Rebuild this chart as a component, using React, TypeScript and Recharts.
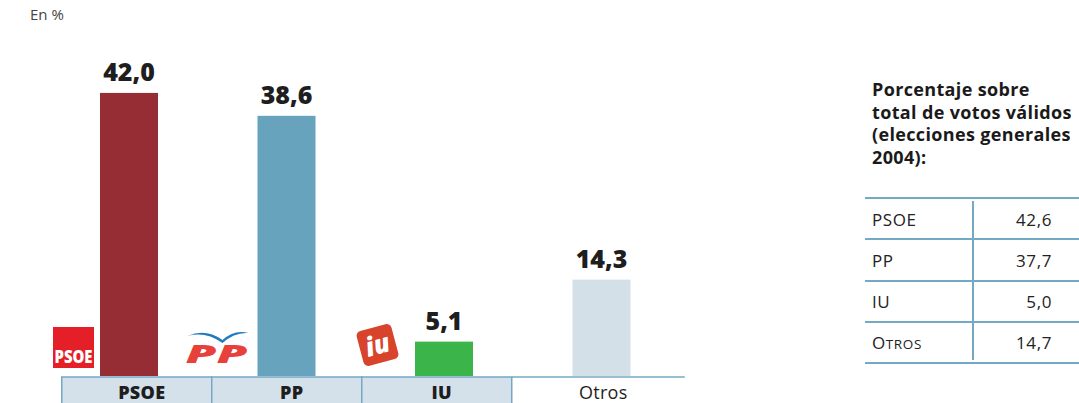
import React from 'react';
import { BarChart, Bar, XAxis, YAxis, LabelList } from 'recharts';

const categories = ['PSOE', 'PP', 'IU', 'Otros'];
const votes2008 = [42.0, 38.6, 5.1, 14.3];
const barColors = ['#962d35', '#67a3bd', '#3bb54a', '#d3e0e8'];
const tableParties = ['PSOE', 'PP', 'IU', 'Otros'];
const votes2004 = [42.6, 37.7, 5.0, 14.7];
const unitLabel = 'En %';
const sideTitle = ['Porcentaje sobre', 'total de votos válidos', '(elecciones generales', '2004):'];

const data = categories.map((name, i) => ({ name, value: votes2008[i], color: barColors[i] }));

const fmt = (v: number) => v.toFixed(1).replace('.', ',');
const FONT = '"Open Sans", sans-serif';
const LINE = '#74a8c4';

const PsoeLogo = ({ cx, cy }: { cx: number; cy: number }) => (
  <g transform={`translate(${cx},${cy})`}>
    <rect x={-20.5} y={-20.5} width={41} height={41} fill="#e41f27" />
    <text x={0} y={15.5} textAnchor="middle" fill="#fff" fontFamily={FONT} fontWeight={800} fontSize={18}
      textLength={38} lengthAdjust="spacingAndGlyphs">PSOE</text>
  </g>
);

const PpLogo = ({ cx, cy }: { cx: number; cy: number }) => (
  <g transform={`translate(${cx},${cy})`}>
    <path d="M-29,-14 Q-11,-22 6,-10 Q18,-21 32,-17 Q18,-18 6,-7 Q-11,-19 -29,-14 Z" fill="#2179c0" />
    <text x={0} y={13} textAnchor="middle" fill="#e8403b" fontFamily={FONT} fontWeight={800} fontStyle="italic"
      fontSize={24} textLength={62} lengthAdjust="spacingAndGlyphs">PP</text>
  </g>
);

const IuLogo = ({ cx, cy }: { cx: number; cy: number }) => (
  <g transform={`translate(${cx},${cy}) rotate(-15)`}>
    <rect x={-18} y={-18} width={36} height={36} rx={5} fill="#d8432c" />
    <text x={0} y={9} textAnchor="middle" fill="#fff" fontFamily={FONT} fontWeight={800} fontStyle="italic"
      fontSize={26}>iu</text>
  </g>
);

const BarShape = (props: any) => {
  const { x, y, width, height, payload } = props;
  const base = y + height;
  const name = payload?.name;
  return (
    <g>
      <rect x={x} y={y} width={width} height={height} fill={payload?.color} />
      {name === 'PSOE' && <PsoeLogo cx={x - 26.5} cy={base - 28.5} />}
      {name === 'PP' && <PpLogo cx={x - 41} cy={base - 26} />}
      {name === 'IU' && <IuLogo cx={x - 37.5} cy={base - 31} />}
    </g>
  );
};

const AxisTick = (props: any) => {
  const { x, y, payload, index } = props;
  const isLast = index === categories.length - 1;
  const left = x - 67 - 7.5 * index;
  const w = isLast ? 173 : 150;
  return (
    <g>
      {!isLast && (
        <rect x={left} y={y + 1} width={w} height={40} fill="#d4e1ea" stroke={LINE} strokeWidth={1.5} />
      )}
      {isLast && <line x1={left} x2={left + w} y1={y + 1} y2={y + 1} stroke={LINE} strokeWidth={1.5} />}
      <text x={left + w / 2 + 5} y={y + 23} textAnchor="middle" fill="#1e1e1e" fontFamily={FONT}
        fontWeight={isLast ? 400 : 800} fontSize={18} letterSpacing={0.3}>{payload.value}</text>
    </g>
  );
};

export default function App() {
  return (
    <div style={{ position: 'absolute', left: 0, top: 0, width: 1079, height: 403, background: '#fff', fontFamily: FONT, overflow: 'hidden' }}>
      <div style={{ position: 'absolute', left: 30, top: 4, fontSize: 15, lineHeight: '20px', color: '#444' }}>{unitLabel}</div>
      <BarChart width={1079} height={403} data={data} margin={{ top: 39, right: 399, bottom: 0, left: 50 }}>
        <YAxis hide domain={[0, 50]} />
        <XAxis dataKey="name" height={27} axisLine={false} tickLine={false} tickSize={0} tickMargin={0}
          interval={0} tick={<AxisTick />} />
        <Bar dataKey="value" barSize={58} isAnimationActive={false} shape={<BarShape />}>
          <LabelList dataKey="value" position="top" offset={12} formatter={(v: any) => fmt(Number(v))}
            fill="#1e1e1e" fontFamily={FONT} fontWeight={800} fontSize={25} />
        </Bar>
      </BarChart>
      <div style={{ position: 'absolute', left: 872, top: 78, fontSize: 18, fontWeight: 700, lineHeight: '22.5px', color: '#1a1a1a', whiteSpace: 'nowrap', letterSpacing: 0.35 }}>
        {sideTitle.map((t, i) => <div key={i}>{t}</div>)}
      </div>
      {[0, 1, 2, 3, 4].map((i) => (
        <div key={'h' + i} style={{ position: 'absolute', left: 865, top: 197 + i * 41.3, width: 214, height: 2, background: LINE }} />
      ))}
      <div style={{ position: 'absolute', left: 972, top: 201, width: 1.5, height: 159, background: LINE }} />
      {tableParties.map((p, i) => (
        <div key={p} style={{ position: 'absolute', left: 872, top: 199 + i * 41.3, width: 180, height: 40, display: 'flex', alignItems: 'center', justifyContent: 'space-between', fontSize: 17, letterSpacing: 0.6, color: '#222' }}>
          {p === 'Otros' ? (
            <span>{p.charAt(0)}<span style={{ fontSize: 13.5 }}>{p.slice(1).toUpperCase()}</span></span>
          ) : (
            <span>{p}</span>
          )}
          <span>{fmt(votes2004[i])}</span>
        </div>
      ))}
    </div>
  );
}
